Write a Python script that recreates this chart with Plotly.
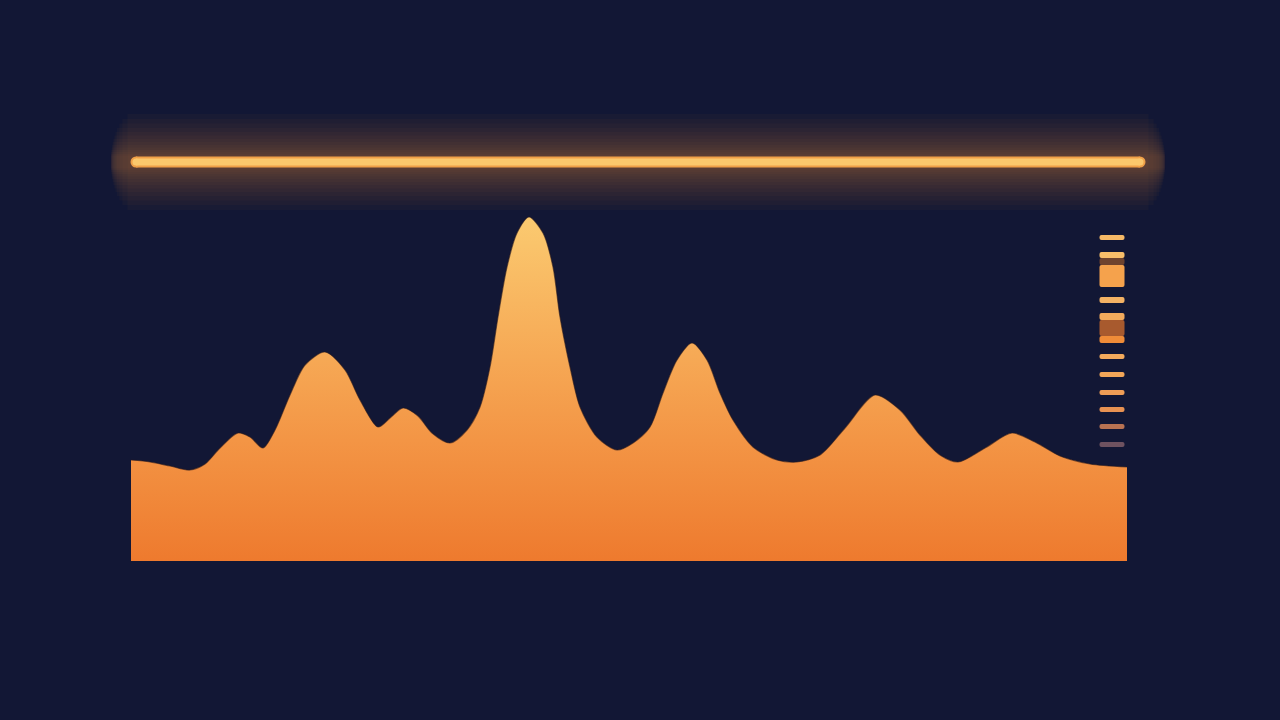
import math
import plotly.graph_objects as go

# ---- data (x and y in arbitrary units) ----
wave_x = [0, 19, 39, 59, 74, 89, 107, 119, 132, 144, 159, 174, 194, 214, 229, 247,
          259, 272, 287, 301, 319, 336, 349, 359, 367, 376, 386, 398, 412, 422, 429,
          439, 449, 466, 486, 502, 519, 532, 546, 561, 576, 589, 602, 622, 646, 666,
          689, 714, 744, 769, 789, 809, 827, 854, 881, 904, 929, 959, 996]
wave_y = [101, 99, 95, 91, 97, 113, 128, 124, 113, 131, 166, 196, 209, 191, 161, 134,
          143, 153, 145, 128, 118, 131, 154, 194, 244, 294, 328, 344, 328, 294, 244,
          194, 154, 124, 111, 118, 134, 168, 201, 218, 201, 168, 141, 114, 101, 99,
          106, 133, 166, 151, 126, 106, 99, 113, 128, 119, 105, 97, 94]

ref_level = 399
ref_start, ref_end = 5, 1009

dash_base = [321, 303, 296, 274, 258, 241, 225, 218, 202, 184, 166, 149, 132, 114]
dash_height = [5, 6, 7, 22, 6, 7, 16, 7, 5, 5, 5, 5, 5, 5]
dash_color = ["#f6b966", "#f7be6a", "#6e432e", "#f5a24c", "#f3b264", "#f2aa5c",
              "#a85a2e", "#f08c38", "#f3aa5c", "#f2a658", "#ee9d56", "#e89252",
              "#b87252", "#6e5260"]

BG = "#121735"

fig = go.Figure()

# soft glow around the reference line, with rounded ends
glow_widths = [96, 86, 77, 68, 60, 53, 46, 40, 34, 29, 24, 20, 16, 13]
R = max(glow_widths) / 2 + 3
for w in glow_widths:
    ext = 0.5 * math.sqrt(R ** 2 - (w / 2) ** 2)
    fig.add_trace(go.Scatter(x=[ref_start - ext, ref_end + ext],
                             y=[ref_level, ref_level], mode="lines",
                             line=dict(color="rgba(215,120,50,0.038)", width=w),
                             hoverinfo="skip", showlegend=False))
fig.add_trace(go.Scatter(x=[ref_start, ref_end], y=[ref_level, ref_level],
                         mode="lines+markers",
                         line=dict(color="#f0a048", width=11),
                         marker=dict(size=11, color="#f0a048"),
                         hoverinfo="skip", showlegend=False))
fig.add_trace(go.Scatter(x=[ref_start, ref_end], y=[ref_level, ref_level],
                         mode="lines+markers",
                         line=dict(color="#fcc86c", width=7),
                         marker=dict(size=7, color="#fcc86c"),
                         hoverinfo="skip", showlegend=False))

# area wave
fig.add_trace(go.Scatter(
    x=wave_x, y=wave_y, mode="lines",
    line=dict(shape="spline", smoothing=0.8, width=1.2, color="rgba(40,25,30,0.6)"),
    fill="tozeroy",
    fillgradient=dict(type="vertical",
                      colorscale=[[0, "#ee7a2e"], [0.35, "#f39545"], [1, "#fbca70"]]),
    hoverinfo="skip", showlegend=False))

# right-side dash column
fig.add_trace(go.Bar(x=[981] * len(dash_base), y=dash_height, base=dash_base,
                     width=25, marker=dict(color=dash_color, line=dict(width=0),
                                           cornerradius=2),
                     hoverinfo="skip", showlegend=False))

fig.update_layout(
    width=1280, height=720,
    margin=dict(l=0, r=0, t=0, b=0),
    paper_bgcolor=BG, plot_bgcolor=BG,
    barmode="overlay",
    xaxis=dict(range=[-131, 1149], visible=False, fixedrange=True),
    yaxis=dict(range=[-159, 561], visible=False, fixedrange=True),
)

fig.write_html("out.html",
               config={"displayModeBar": False, "staticPlot": True},
               post_script="document.body.style.margin='0';"
                           "document.body.style.background='#121735';")
